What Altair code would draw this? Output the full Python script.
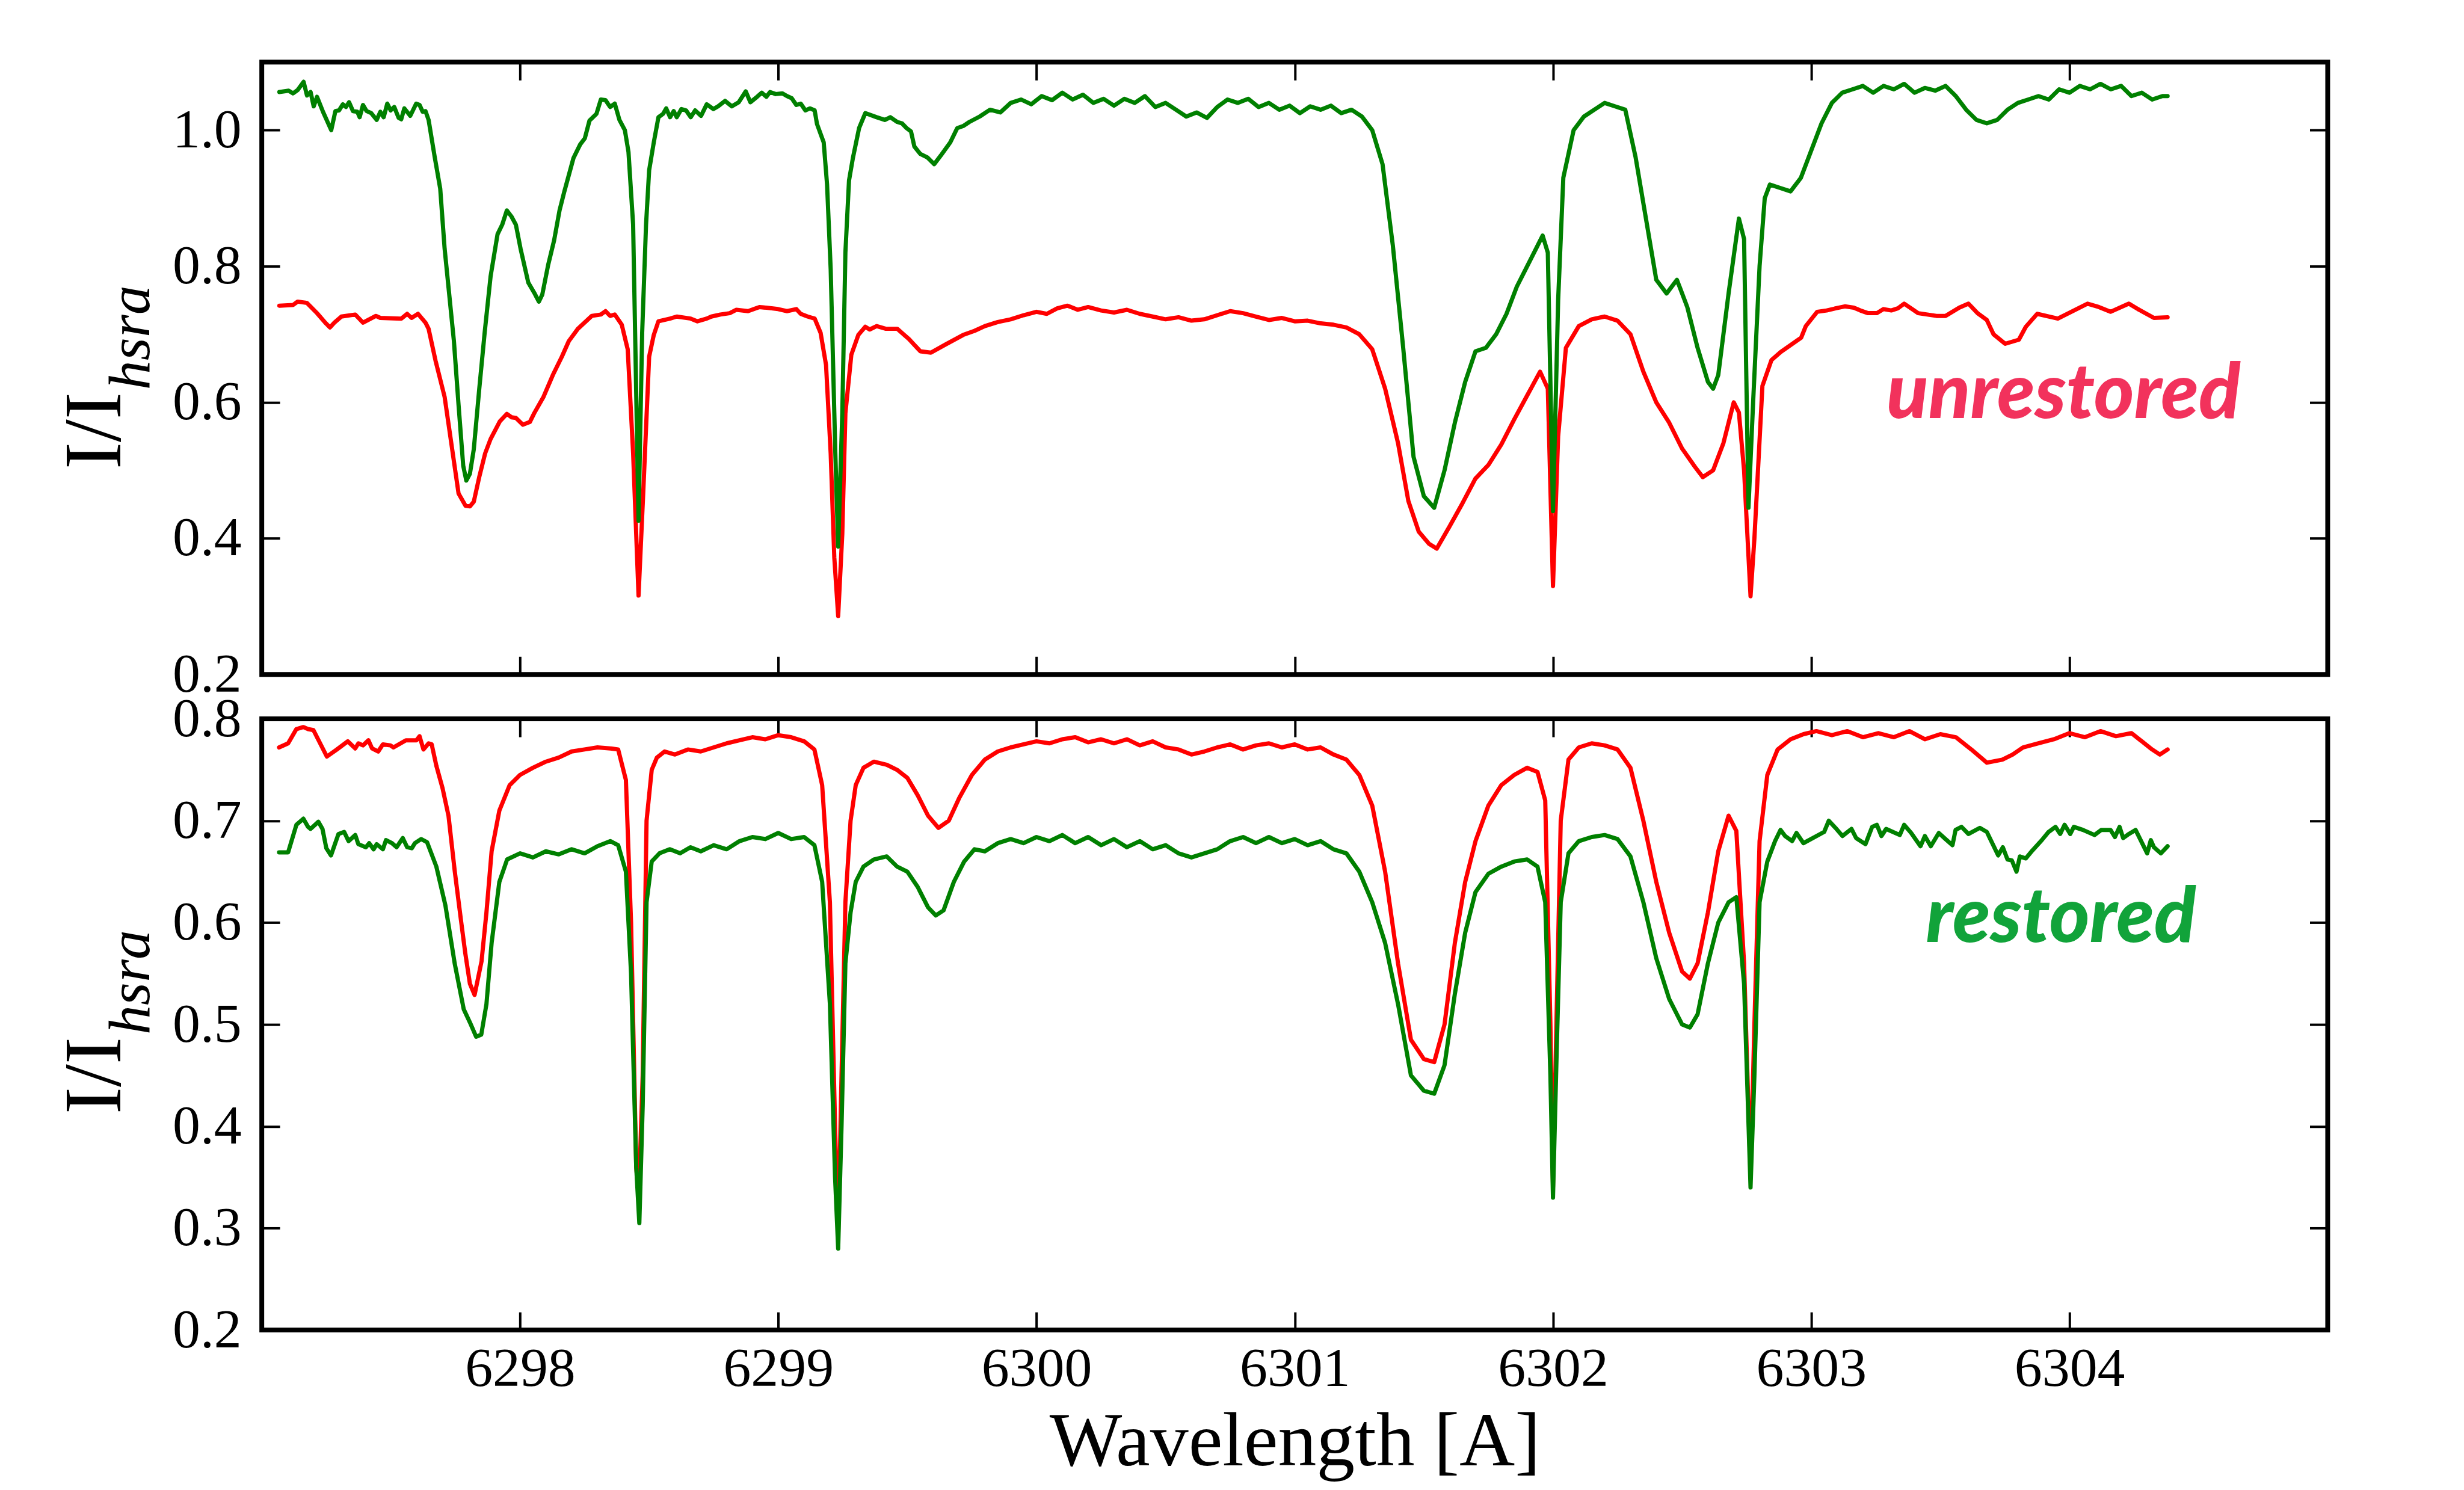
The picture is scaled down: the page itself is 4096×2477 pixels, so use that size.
import altair as alt
import pandas as pd

# ---------------- data ----------------
top_red_wl = [6297.068,6297.121,6297.139,6297.175,6297.214,6297.246,6297.264,6297.281,6297.308,6297.362,6297.392,6297.442,6297.459,6297.540,6297.563,6297.580,6297.605,6297.634,6297.646,6297.673,6297.708,6297.735,6297.762,6297.789,6297.806,6297.821,6297.842,6297.865,6297.886,6297.922,6297.949,6297.967,6297.984,6298.011,6298.038,6298.055,6298.091,6298.127,6298.162,6298.189,6298.224,6298.278,6298.313,6298.331,6298.349,6298.367,6298.394,6298.417,6298.438,6298.459,6298.477,6298.500,6298.518,6298.536,6298.581,6298.607,6298.661,6298.687,6298.723,6298.741,6298.776,6298.812,6298.838,6298.883,6298.927,6298.954,6298.999,6299.034,6299.070,6299.087,6299.114,6299.141,6299.164,6299.185,6299.203,6299.217,6299.232,6299.248,6299.260,6299.283,6299.310,6299.337,6299.354,6299.381,6299.417,6299.461,6299.488,6299.506,6299.550,6299.591,6299.648,6299.716,
              6299.76,6299.80,6299.85,6299.90,6299.95,6300.00,6300.04,6300.08,6300.12,6300.16,6300.20,6300.25,6300.30,6300.35,6300.40,6300.45,6300.50,6300.55,6300.60,6300.65,6300.70,6300.75,6300.80,6300.85,6300.90,6300.95,6301.00,6301.05,6301.10,6301.15,6301.20,6301.25,6301.30,6301.35,6301.40,6301.44,6301.48,6301.52,6301.55,6301.60,6301.65,6301.70,6301.75,6301.80,6301.85,6301.90,6301.95,6301.98,6302.00,6302.02,6302.05,6302.10,6302.15,6302.20,6302.25,6302.30,6302.35,6302.40,6302.45,6302.50,6302.55,6302.58,6302.62,6302.66,6302.70,6302.72,6302.74,6302.765,6302.78,
              6302.811,6302.846,6302.882,6302.961,6302.979,6303.023,6303.060,6303.094,6303.130,6303.165,6303.190,6303.220,6303.254,6303.280,6303.310,6303.335,6303.360,6303.414,6303.485,6303.520,6303.573,6303.609,6303.644,6303.680,6303.706,6303.751,6303.804,6303.831,6303.875,6303.955,6304.070,6304.114,6304.159,6304.230,6304.265,6304.327,6304.380]
top_red_val = [0.742,0.743,0.748,0.746,0.731,0.717,0.710,0.717,0.726,0.729,0.717,0.727,0.724,0.723,0.730,0.724,0.730,0.717,0.708,0.661,0.608,0.537,0.466,0.448,0.447,0.454,0.490,0.525,0.546,0.572,0.583,0.578,0.577,0.567,0.571,0.584,0.608,0.640,0.667,0.690,0.708,0.727,0.729,0.734,0.727,0.729,0.714,0.678,0.525,0.316,0.466,0.667,0.699,0.719,0.723,0.726,0.723,0.719,0.723,0.726,0.729,0.731,0.736,0.734,0.740,0.739,0.737,0.734,0.737,0.730,0.726,0.723,0.702,0.655,0.525,0.372,0.286,0.407,0.584,0.670,0.699,0.711,0.707,0.712,0.708,0.708,0.699,0.693,0.675,0.673,0.685,0.699,
               0.705,0.712,0.718,0.722,0.728,0.733,0.730,0.738,0.742,0.736,0.740,0.735,0.732,0.736,0.730,0.726,0.722,0.725,0.720,0.722,0.728,0.734,0.731,0.726,0.721,0.724,0.719,0.720,0.716,0.714,0.710,0.700,0.678,0.620,0.540,0.455,0.410,0.392,0.385,0.418,0.452,0.488,0.508,0.538,0.575,0.610,0.645,0.620,0.330,0.550,0.680,0.712,0.722,0.726,0.720,0.700,0.645,0.600,0.570,0.532,0.505,0.490,0.500,0.540,0.600,0.585,0.500,0.315,0.400,
               0.624,0.662,0.674,0.695,0.712,0.733,0.735,0.738,0.741,0.739,0.735,0.731,0.731,0.737,0.735,0.738,0.745,0.731,0.727,0.727,0.739,0.745,0.731,0.721,0.700,0.686,0.692,0.711,0.730,0.723,0.745,0.740,0.733,0.745,0.737,0.724,0.725]

top_green_wl = [6297.068,6297.104,6297.121,6297.139,6297.162,6297.175,6297.189,6297.201,6297.214,6297.237,6297.269,6297.285,6297.299,6297.314,6297.326,6297.338,6297.353,6297.370,6297.379,6297.392,6297.406,6297.424,6297.445,6297.459,6297.472,6297.486,6297.499,6297.513,6297.530,6297.540,6297.552,6297.575,6297.598,6297.611,6297.623,6297.634,6297.646,6297.669,6297.691,6297.708,6297.744,6297.762,6297.780,6297.792,6297.806,6297.821,6297.842,6297.863,6297.886,6297.913,6297.931,6297.949,6297.967,6297.984,6298.002,6298.032,6298.055,6298.073,6298.086,6298.109,6298.132,6298.153,6298.171,6298.207,6298.233,6298.251,6298.269,6298.296,6298.313,6298.331,6298.349,6298.367,6298.385,6298.406,6298.420,6298.438,6298.459,6298.473,6298.488,6298.500,6298.518,6298.536,6298.554,6298.566,6298.581,6298.595,6298.607,6298.625,6298.643,6298.661,6298.678,6298.701,6298.723,6298.749,6298.767,6298.794,6298.820,6298.847,6298.874,6298.892,6298.918,6298.936,6298.954,6298.968,6298.990,6299.016,6299.034,6299.052,6299.070,6299.087,6299.105,6299.123,6299.141,6299.150,6299.176,6299.189,6299.203,6299.221,6299.232,6299.248,6299.260,6299.274,6299.289,6299.313,6299.337,6299.381,6299.413,6299.434,6299.461,6299.479,6299.497,6299.514,6299.527,6299.550,6299.577,6299.604,6299.630,6299.666,6299.693,6299.716,
                6299.74,6299.78,6299.82,6299.86,6299.90,6299.94,6299.98,6300.02,6300.06,6300.10,6300.14,6300.18,6300.22,6300.26,6300.30,6300.34,6300.38,6300.42,6300.46,6300.50,6300.54,6300.58,6300.62,6300.66,6300.70,6300.74,6300.78,6300.82,6300.86,6300.90,6300.94,6300.98,6301.02,6301.06,6301.10,6301.14,6301.18,6301.22,6301.26,6301.30,6301.34,6301.38,6301.42,6301.46,6301.50,6301.54,6301.58,6301.62,6301.66,6301.70,6301.74,6301.78,6301.82,6301.86,6301.90,6301.94,6301.96,6301.98,6302.00,6302.02,6302.04,6302.08,6302.12,6302.16,6302.20,6302.24,6302.28,6302.32,6302.36,6302.40,6302.44,6302.48,6302.52,6302.56,6302.60,6302.62,6302.64,6302.68,6302.72,6302.74,6302.757,6302.775,
                6302.80,6302.82,6302.84,6302.88,6302.92,6302.96,6303.00,6303.04,6303.08,6303.12,6303.16,6303.20,6303.24,6303.28,6303.32,6303.36,6303.40,6303.44,6303.48,6303.52,6303.56,6303.60,6303.64,6303.68,6303.72,6303.76,6303.80,6303.84,6303.88,6303.92,6303.96,6304.00,6304.04,6304.08,6304.12,6304.16,6304.20,6304.24,6304.28,6304.32,6304.36,6304.38]
top_green_val = [1.056,1.058,1.054,1.059,1.071,1.051,1.056,1.035,1.049,1.027,1.000,1.028,1.029,1.038,1.034,1.041,1.028,1.027,1.019,1.037,1.028,1.025,1.015,1.027,1.019,1.039,1.029,1.034,1.018,1.016,1.032,1.021,1.039,1.037,1.027,1.028,1.015,0.962,0.914,0.826,0.690,0.596,0.507,0.485,0.495,0.531,0.619,0.702,0.785,0.847,0.861,0.882,0.873,0.861,0.826,0.776,0.761,0.748,0.758,0.802,0.838,0.882,0.909,0.959,0.979,0.988,1.014,1.024,1.045,1.044,1.034,1.039,1.015,1.000,0.968,0.861,0.426,0.702,0.861,0.941,0.982,1.019,1.024,1.032,1.019,1.028,1.019,1.031,1.029,1.019,1.029,1.021,1.038,1.031,1.035,1.043,1.035,1.041,1.057,1.041,1.049,1.055,1.049,1.056,1.053,1.054,1.050,1.047,1.037,1.039,1.029,1.032,1.029,1.009,0.982,0.920,0.796,0.525,0.388,0.584,0.820,0.926,0.959,1.003,1.025,1.019,1.015,1.019,1.012,1.010,1.003,0.998,0.976,0.965,0.960,0.950,0.963,0.982,1.003,1.006,
                 1.012,1.020,1.030,1.026,1.040,1.045,1.038,1.050,1.044,1.055,1.045,1.052,1.040,1.046,1.036,1.046,1.040,1.050,1.034,1.040,1.030,1.020,1.026,1.018,1.034,1.045,1.040,1.046,1.034,1.040,1.030,1.036,1.025,1.035,1.030,1.036,1.025,1.030,1.020,1.000,0.950,0.830,0.680,0.520,0.462,0.445,0.500,0.570,0.630,0.675,0.680,0.700,0.730,0.770,0.800,0.830,0.845,0.820,0.440,0.750,0.930,1.000,1.020,1.030,1.040,1.035,1.030,0.960,0.870,0.780,0.760,0.780,0.740,0.680,0.630,0.620,0.640,0.760,0.870,0.840,0.445,0.600,
                 0.800,0.900,0.920,0.915,0.910,0.930,0.970,1.010,1.040,1.055,1.060,1.065,1.055,1.065,1.060,1.068,1.055,1.062,1.058,1.065,1.050,1.030,1.015,1.010,1.015,1.030,1.040,1.045,1.050,1.045,1.060,1.055,1.065,1.060,1.068,1.060,1.065,1.050,1.055,1.045,1.050,1.050]

bot_red_wl = [6297.067,6297.102,6297.134,6297.161,6297.179,6297.200,6297.226,6297.252,6297.291,6297.333,6297.362,6297.374,6297.392,6297.413,6297.427,6297.451,6297.469,6297.498,6297.510,6297.558,6297.599,6297.611,6297.626,6297.646,6297.658,6297.676,6297.700,6297.723,6297.747,6297.771,6297.788,6297.806,6297.824,6297.851,
              6297.87,6297.89,6297.92,6297.96,6298.00,6298.05,6298.10,6298.15,6298.20,6298.25,6298.30,6298.35,6298.38,6298.41,6298.43,6298.45,6298.46,6298.475,6298.49,6298.51,6298.53,6298.56,6298.60,6298.65,6298.70,6298.75,6298.80,6298.85,6298.90,6298.95,6299.00,6299.05,6299.10,6299.14,6299.17,6299.20,6299.22,6299.232,6299.245,6299.26,6299.28,6299.30,6299.33,6299.37,6299.42,6299.46,6299.50,6299.54,6299.58,6299.62,6299.66,6299.70,6299.75,6299.80,6299.85,6299.90,6299.95,6300.00,6300.05,6300.10,6300.15,6300.20,6300.25,6300.30,6300.35,6300.40,6300.45,6300.50,6300.55,6300.60,6300.65,6300.70,6300.75,6300.80,6300.85,6300.90,6300.95,6301.00,6301.05,6301.10,6301.15,6301.20,6301.25,6301.30,6301.35,6301.40,6301.45,6301.50,6301.54,6301.58,6301.62,6301.66,6301.70,6301.75,6301.80,6301.85,6301.90,6301.94,6301.97,6301.99,6302.00,6302.015,6302.03,6302.06,6302.10,6302.15,6302.20,6302.25,6302.30,6302.35,6302.40,6302.45,6302.50,6302.53,6302.56,6302.60,6302.64,6302.68,6302.71,6302.74,6302.765,6302.78,6302.80,6302.83,6302.87,6302.92,6302.97,6303.02,6303.08,6303.14,6303.20,6303.26,6303.32,6303.38,6303.44,6303.50,6303.56,6303.62,6303.68,6303.74,6303.78,6303.82,6303.88,6303.94,6304.00,6304.06,6304.12,6304.18,6304.24,6304.28,6304.32,6304.35,6304.38]
bot_red_val = [0.772,0.776,0.790,0.792,0.790,0.789,0.776,0.763,0.770,0.778,0.771,0.776,0.774,0.779,0.771,0.768,0.775,0.774,0.772,0.779,0.779,0.783,0.770,0.776,0.775,0.754,0.732,0.705,0.651,0.603,0.570,0.540,0.529,0.562,
               0.610,0.670,0.710,0.735,0.745,0.752,0.758,0.762,0.768,0.770,0.772,0.771,0.770,0.740,0.600,0.360,0.330,0.450,0.700,0.750,0.762,0.768,0.765,0.770,0.768,0.772,0.776,0.779,0.782,0.780,0.784,0.782,0.778,0.770,0.735,0.620,0.400,0.290,0.450,0.620,0.700,0.735,0.752,0.758,0.755,0.750,0.742,0.725,0.705,0.693,0.700,0.722,0.745,0.760,0.768,0.772,0.775,0.778,0.776,0.780,0.782,0.777,0.780,0.776,0.780,0.774,0.778,0.772,0.770,0.765,0.768,0.772,0.775,0.770,0.774,0.776,0.772,0.775,0.770,0.772,0.765,0.760,0.745,0.715,0.650,0.560,0.485,0.466,0.463,0.500,0.580,0.640,0.680,0.715,0.735,0.745,0.752,0.748,0.720,0.500,0.340,0.520,0.700,0.760,0.772,0.776,0.774,0.770,0.752,0.700,0.640,0.590,0.552,0.545,0.560,0.610,0.670,0.705,0.690,0.560,0.350,0.500,0.680,0.745,0.770,0.780,0.785,0.788,0.784,0.788,0.782,0.786,0.782,0.788,0.780,0.785,0.782,0.770,0.757,0.760,0.765,0.772,0.776,0.780,0.786,0.782,0.788,0.783,0.786,0.778,0.770,0.765,0.770]

bot_green_wl = [6297.067,6297.102,6297.134,6297.161,6297.179,6297.189,6297.219,6297.235,6297.250,6297.268,6297.297,6297.319,6297.336,6297.362,6297.374,6297.403,6297.416,6297.433,6297.445,6297.469,6297.481,6297.504,6297.522,6297.546,6297.563,6297.581,6297.593,6297.617,6297.640,6297.676,6297.711,6297.747,6297.782,6297.806,6297.83,6297.85,
                6297.87,6297.89,6297.92,6297.95,6298.00,6298.05,6298.10,6298.15,6298.20,6298.25,6298.30,6298.35,6298.38,6298.41,6298.43,6298.45,6298.462,6298.475,6298.49,6298.51,6298.54,6298.58,6298.62,6298.66,6298.70,6298.75,6298.80,6298.85,6298.90,6298.95,6299.00,6299.05,6299.10,6299.14,6299.17,6299.20,6299.22,6299.232,6299.245,6299.26,6299.28,6299.30,6299.33,6299.37,6299.42,6299.46,6299.50,6299.54,6299.58,6299.61,6299.64,6299.68,6299.72,6299.76,6299.80,6299.85,6299.90,6299.95,6300.00,6300.05,6300.10,6300.15,6300.20,6300.25,6300.30,6300.35,6300.40,6300.45,6300.50,6300.55,6300.60,6300.65,6300.70,6300.75,6300.80,6300.85,6300.90,6300.95,6301.00,6301.05,6301.10,6301.15,6301.20,6301.25,6301.30,6301.35,6301.40,6301.45,6301.50,6301.54,6301.58,6301.62,6301.66,6301.70,6301.75,6301.80,6301.85,6301.90,6301.94,6301.97,6301.99,6302.00,6302.015,6302.03,6302.06,6302.10,6302.15,6302.20,6302.25,6302.30,6302.35,6302.40,6302.45,6302.50,6302.53,6302.56,6302.60,6302.64,6302.68,6302.71,6302.74,6302.765,6302.78,6302.80,6302.83,6302.86,
                6302.881,6302.899,6302.926,6302.943,6302.970,6303.050,6303.068,6303.094,6303.121,6303.156,6303.174,6303.210,6303.236,6303.254,6303.272,6303.290,6303.343,6303.360,6303.387,6303.423,6303.440,6303.463,6303.494,6303.520,6303.547,6303.559,6303.582,6303.609,6303.653,6303.680,6303.724,6303.742,6303.760,6303.777,6303.795,6303.808,6303.831,6303.857,6303.893,6303.919,6303.946,6303.964,6303.981,6304.003,6304.017,6304.052,6304.097,6304.123,6304.159,6304.176,6304.194,6304.208,6304.230,6304.256,6304.301,6304.315,6304.327,6304.354,6304.380]
bot_green_val = [0.669,0.669,0.696,0.702,0.694,0.692,0.699,0.692,0.673,0.666,0.687,0.689,0.680,0.686,0.677,0.674,0.678,0.672,0.677,0.672,0.681,0.678,0.674,0.683,0.674,0.673,0.678,0.682,0.679,0.655,0.617,0.560,0.515,0.502,0.488,0.490,
                 0.520,0.580,0.640,0.662,0.668,0.664,0.670,0.667,0.672,0.668,0.675,0.680,0.676,0.650,0.550,0.360,0.305,0.420,0.620,0.660,0.668,0.672,0.668,0.674,0.670,0.676,0.672,0.680,0.684,0.682,0.688,0.682,0.684,0.676,0.640,0.520,0.350,0.280,0.400,0.560,0.610,0.640,0.655,0.662,0.665,0.655,0.650,0.635,0.615,0.607,0.612,0.640,0.660,0.672,0.670,0.678,0.682,0.678,0.684,0.680,0.686,0.678,0.684,0.676,0.682,0.674,0.680,0.672,0.676,0.668,0.664,0.668,0.672,0.680,0.684,0.678,0.684,0.678,0.682,0.676,0.680,0.672,0.668,0.650,0.620,0.580,0.520,0.450,0.435,0.432,0.460,0.530,0.590,0.630,0.648,0.655,0.660,0.662,0.655,0.620,0.450,0.330,0.480,0.620,0.668,0.680,0.684,0.686,0.682,0.665,0.620,0.565,0.525,0.500,0.497,0.510,0.560,0.600,0.620,0.625,0.540,0.340,0.450,0.620,0.660,0.680,
                 0.691,0.685,0.680,0.688,0.678,0.689,0.700,0.693,0.685,0.692,0.683,0.677,0.694,0.696,0.685,0.692,0.686,0.696,0.688,0.675,0.685,0.675,0.688,0.682,0.676,0.691,0.694,0.687,0.693,0.689,0.666,0.674,0.662,0.661,0.650,0.665,0.663,0.671,0.681,0.689,0.694,0.687,0.696,0.687,0.694,0.691,0.686,0.691,0.691,0.684,0.694,0.683,0.687,0.691,0.668,0.681,0.674,0.668,0.675]

x_domain = [6297, 6305]
x_ticks = [6298, 6299, 6300, 6301, 6302, 6303, 6304]
top_y_domain = [0.2, 1.1]
top_y_ticks = [0.2, 0.4, 0.6, 0.8, 1.0]
bot_y_domain = [0.2, 0.8]
bot_y_ticks = [0.2, 0.3, 0.4, 0.5, 0.6, 0.7, 0.8]

labels_top = {"x": [6303.977], "y": [0.577], "t": ["unrestored"]}
labels_bot = {"x": [6303.967], "y": [0.581], "t": ["restored"]}

# ---------------- layout ----------------
W = 3441
H_TOP = 1020
H_BOT = 1018
SERIF = "Liberation Serif"
TICK = 30
RED = "#ff0000"
GREEN = "#008000"
LW = 7


def series_df(wl, val):
    return pd.DataFrame({"wl": wl, "v": val})


def panel(red, green, ydom, yticks, xlabels, lab, lab_color, height, extra_bottom, title_y):
    xs = alt.Scale(domain=x_domain, nice=False, zero=False)
    ys = alt.Scale(domain=ydom, nice=False, zero=False)
    common = dict(domain=False, grid=False, tickColor="black", tickWidth=4,
                  tickSize=TICK, offset=-TICK, labelFlush=False, labelOverlap=False,
                  labelLimit=1000)
    if xlabels:
        ax_bottom = alt.Axis(orient="bottom", values=x_ticks, format="d", labels=True,
                             labelFont=SERIF, labelFontSize=92, labelColor="black",
                             labelPadding=20, title="Wavelength [A]", titleFont=SERIF,
                             titleFontSize=128, titleFontWeight="normal", titleColor="black",
                             titlePadding=13, **common)
    else:
        ax_bottom = alt.Axis(orient="bottom", values=x_ticks, labels=False, title=None, **common)
    ax_left = alt.Axis(orient="left", values=yticks, format=".1f", labelFont=SERIF,
                       labelFontSize=92, labelColor="black", labelPadding=34, title=None, **common)
    ax_top = alt.Axis(orient="top", values=x_ticks, labels=False, title=None, **common)
    ax_right = alt.Axis(orient="right", values=yticks, labels=False, title=None, **common)

    base_red = alt.Chart(red)
    l_red = base_red.mark_line(color=RED, strokeWidth=LW, strokeJoin="round", strokeCap="round").encode(
        x=alt.X("wl:Q", scale=xs, axis=ax_bottom),
        y=alt.Y("v:Q", scale=ys, axis=ax_left),
    )
    l_green = alt.Chart(green).mark_line(color=GREEN, strokeWidth=LW, strokeJoin="round", strokeCap="round").encode(
        x=alt.X("wl:Q", scale=xs, axis=None),
        y=alt.Y("v:Q", scale=ys, axis=None),
    )
    l_axes = base_red.mark_line(opacity=0).encode(
        x=alt.X("wl:Q", scale=xs, axis=ax_top),
        y=alt.Y("v:Q", scale=ys, axis=ax_right),
    )
    l_lab = alt.Chart(pd.DataFrame(lab)).mark_text(
        font="Lato", fontSize=128, fontWeight=900, fontStyle="italic",
        color=lab_color, align="center", baseline="alphabetic").encode(
        x=alt.X("x:Q", scale=xs, axis=None),
        y=alt.Y("y:Q", scale=ys, axis=None),
        text="t:N",
    )
    one = alt.Data(values=[{"a": 1}])
    t1 = alt.Chart(one).mark_text(font=SERIF, fontSize=136, angle=270, align="right",
                                  baseline="alphabetic", color="black").encode(
        x=alt.value(-236), y=alt.value(title_y), text=alt.value("I/I"))
    t2 = alt.Chart(one).mark_text(font=SERIF, fontSize=98, fontStyle="italic", angle=270,
                                  align="left", baseline="alphabetic", color="black").encode(
        x=alt.value(-188), y=alt.value(title_y - 4), text=alt.value("hsra"))
    if extra_bottom:
        bounds = alt.Chart(one).mark_rect(opacity=0).encode(
            x=alt.value(-424), x2=alt.value(3656), y=alt.value(0), y2=alt.value(1278))
    else:
        bounds = alt.Chart(one).mark_rect(opacity=0).encode(
            x=alt.value(-424), x2=alt.value(3656), y=alt.value(-89), y2=alt.value(100))
    return alt.layer(bounds, l_red, l_green, l_axes, l_lab, t1, t2).resolve_axis(
        x="independent", y="independent").properties(width=W, height=height)


top = panel(series_df(top_red_wl, top_red_val), series_df(top_green_wl, top_green_val),
            top_y_domain, top_y_ticks, False, labels_top, "#f2325c", H_TOP, False, 550)
bot = panel(series_df(bot_red_wl, bot_red_val), series_df(bot_green_wl, bot_green_val),
            bot_y_domain, bot_y_ticks, True, labels_bot, "#11a33a", H_BOT, True, 530)

chart = alt.vconcat(top, bot, spacing=74, bounds="flush").properties(
    padding=0, background="white"
).configure_view(stroke="black", strokeWidth=8)

chart.save("out.html", embed_options={"renderer": "svg", "actions": False})
